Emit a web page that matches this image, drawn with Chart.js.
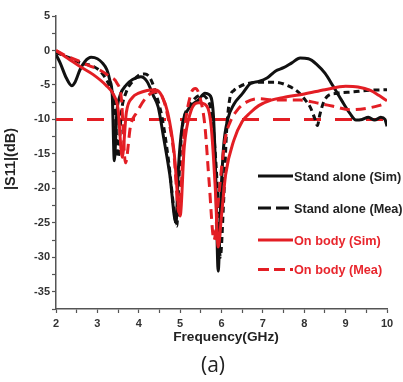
<!DOCTYPE html>
<html>
<head>
<meta charset="utf-8">
<script src="https://cdn.jsdelivr.net/npm/chart.js@4.4.1/dist/chart.umd.min.js"></script>
<style>
  html, body { margin: 0; padding: 0; background: #fff; }
  #wrap { width: 403px; height: 382px; }
</style>
</head>
<body>
<div id="wrap"><canvas id="s11Chart" width="403" height="382"></canvas></div>
<script>
// Values: [frequency GHz, |S11| dB]
const standAloneSim = [
    [2.0, -0.6], [2.1, -1.8], [2.25, -4.0], [2.38, -5.1], [2.46, -4.6], [2.58, -2.8],
    [2.7, -1.6], [2.85, -1.0], [3.0, -1.2], [3.12, -1.8], [3.23, -2.8], [3.3, -4.3],
    [3.36, -6.5], [3.41, -16.0], [3.47, -9.0], [3.55, -6.5], [3.7, -5.0], [3.85, -4.2],
    [4.05, -3.8], [4.2, -4.5], [4.35, -6.5], [4.47, -8.2], [4.6, -12.6], [4.75, -18.0],
    [4.9, -25.0], [4.96, -17.0], [5.05, -11.0], [5.2, -8.5], [5.44, -7.2], [5.6, -6.2],
    [5.7, -6.4], [5.8, -9.0], [5.86, -18.0], [5.92, -32.0], [5.98, -22.0], [6.05, -14.0],
    [6.15, -10.0], [6.3, -7.8], [6.5, -6.3], [6.7, -4.8], [6.9, -4.5], [7.1, -4.0],
    [7.3, -3.0], [7.5, -2.5], [7.7, -1.8], [7.9, -1.1], [8.1, -1.2], [8.3, -2.0],
    [8.5, -3.3], [8.7, -5.2], [8.9, -7.2], [9.1, -9.1], [9.25, -10.1], [9.4, -10.0],
    [9.55, -9.7], [9.7, -10.1], [9.85, -9.7], [9.95, -10.0], [10.0, -11.0]
];
const standAloneMea = [
    [2.0, -0.3], [2.3, -1.0], [2.6, -1.8], [2.9, -2.3], [3.1, -3.2], [3.3, -5.3],
    [3.42, -8.0], [3.5, -15.5], [3.58, -9.0], [3.7, -6.0], [3.85, -4.5], [4.0, -3.6],
    [4.15, -3.4], [4.3, -4.3], [4.45, -7.0], [4.56, -9.6], [4.72, -16.0], [4.85, -23.0],
    [4.92, -25.5], [4.97, -18.9], [5.03, -12.5], [5.1, -9.6], [5.2, -8.3], [5.35, -7.0],
    [5.5, -6.5], [5.65, -7.0], [5.78, -10.0], [5.9, -20.0], [5.97, -30.0], [6.05, -22.0],
    [6.12, -12.0], [6.2, -7.0], [6.3, -5.8], [6.45, -5.2], [6.7, -4.7], [7.0, -4.6],
    [7.3, -4.6], [7.6, -5.1], [7.85, -6.0], [8.0, -7.0], [8.15, -8.3], [8.25, -9.8],
    [8.32, -10.9], [8.37, -9.5], [8.45, -7.8], [8.55, -6.7], [8.8, -6.2], [9.2, -6.0],
    [9.5, -5.8], [10.0, -5.7]
];
const onBodySim = [
    [2.0, 0.0], [2.3, -1.2], [2.6, -2.4], [2.9, -3.5], [3.2, -5.0], [3.4, -6.5],
    [3.5, -8.5], [3.6, -15.5], [3.7, -9.0], [3.85, -6.8], [4.0, -6.2], [4.2, -5.8],
    [4.4, -5.7], [4.55, -6.5], [4.7, -9.0], [4.85, -14.5], [5.0, -24.0], [5.1, -14.0],
    [5.25, -9.0], [5.45, -7.6], [5.6, -7.8], [5.75, -11.0], [5.85, -20.0], [5.92, -28.5],
    [6.0, -24.0], [6.1, -18.0], [6.3, -13.0], [6.5, -10.3], [6.7, -9.0], [6.9, -8.0],
    [7.2, -7.2], [7.5, -6.8], [8.0, -6.3], [8.5, -5.7], [9.0, -5.2], [9.3, -5.3],
    [9.6, -5.8], [9.8, -6.5], [10.0, -7.3]
];
const onBodyMea = [
    [2.0, 0.0], [2.25, -0.8], [2.5, -1.4], [2.8, -2.2], [3.05, -2.8], [3.3, -3.8],
    [3.47, -4.7], [3.58, -7.0], [3.68, -16.3], [3.8, -11.0], [3.95, -9.0], [4.2, -6.7],
    [4.4, -6.0], [4.55, -6.5], [4.7, -9.5], [4.85, -15.0], [4.97, -23.5], [5.1, -12.0],
    [5.25, -6.5], [5.37, -5.5], [5.48, -6.8], [5.6, -11.0], [5.7, -19.0], [5.82, -27.5],
    [5.92, -22.0], [6.02, -16.0], [6.1, -12.5], [6.2, -10.5], [6.4, -8.5], [6.6, -7.5],
    [6.9, -7.0], [7.3, -7.2], [7.9, -7.2], [8.3, -7.6], [8.7, -8.1], [9.1, -8.6],
    [9.5, -8.4], [9.8, -8.0], [10.0, -7.6]
];
const refLine = [[2, -10], [10, -10]];

const legendLabels = ["Stand alone (Sim)", "Stand alone (Mea)", "On body (Sim)", "On body (Mea)"];

const BLACK = "#111111";
const RED = "#e31e24";

const toPoints = (arr) => arr.map(([x, y]) => ({ x: x, y: y }));

const curve = (label, data, color, dash, order) => ({
    label: label,
    data: toPoints(data),
    borderColor: color,
    borderWidth: 3,
    borderDash: dash,
    pointRadius: 0,
    fill: false,
    cubicInterpolationMode: "monotone",
    order: order,
});

// Legend, axis titles and "(a)" caption
const annotations = {
    id: "annotations",
    afterDraw(chart) {
        const ctx = chart.ctx;
        ctx.save();

        const rows = [
            { text: legendLabels[0], color: BLACK, dash: [], y: 176 },
            { text: legendLabels[1], color: BLACK, dash: [13, 5], y: 208 },
            { text: legendLabels[2], color: RED, dash: [], y: 240 },
            { text: legendLabels[3], color: RED, dash: [11, 5], y: 269.5 },
        ];
        rows.forEach((r) => {
            ctx.beginPath();
            ctx.setLineDash(r.dash);
            ctx.strokeStyle = r.color;
            ctx.lineWidth = 3;
            ctx.moveTo(258, r.y);
            ctx.lineTo(293, r.y);
            ctx.stroke();
            ctx.setLineDash([]);
            ctx.fillStyle = r.color === RED ? "#e8262d" : "#222";
            ctx.font = "bold 12.7px 'Liberation Sans', Arial, sans-serif";
            ctx.textAlign = "left";
            ctx.textBaseline = "middle";
            ctx.fillText(r.text, 294, r.y + 1);
        });

        ctx.fillStyle = "#222";
        ctx.font = "bold 13.7px 'Liberation Sans', Arial, sans-serif";
        ctx.textAlign = "center";
        ctx.textBaseline = "middle";
        ctx.fillText("Frequency(GHz)", 226, 337);

        ctx.font = "21px 'Open Sans', 'Liberation Sans', sans-serif";
        ctx.fillText("(a)", 213, 366);

        ctx.translate(11, 159);
        ctx.rotate(-Math.PI / 2);
        ctx.font = "bold 14.5px 'Liberation Sans', Arial, sans-serif";
        ctx.fillText("|S11|(dB)", 0, 0);
        ctx.restore();
    },
};

const tickFont = { family: "'Liberation Sans', Arial, sans-serif", size: 11, weight: "bold" };

new Chart(document.getElementById("s11Chart"), {
    type: "line",
    data: {
        datasets: [
            curve(legendLabels[0], standAloneSim, BLACK, [], 4),
            curve(legendLabels[1], standAloneMea, BLACK, [6, 4], 3),
            curve(legendLabels[2], onBodySim, RED, [], 2),
            curve(legendLabels[3], onBodyMea, RED, [10, 6], 1),
            {
                label: "-10 dB",
                data: toPoints(refLine),
                borderColor: RED,
                borderWidth: 3,
                borderDash: [17, 14],
                pointRadius: 0,
                order: 5,
            },
        ],
    },
    options: {
        responsive: false,
        animation: false,
        layout: { padding: { left: 0, right: 16, top: 16, bottom: 0 } },
        plugins: {
            legend: { display: false },
            tooltip: { enabled: false },
        },
        scales: {
            x: {
                type: "linear",
                min: 2,
                max: 10,
                afterFit: (scale) => { scale.height = 73; },
                ticks: {
                    stepSize: 0.5,
                    padding: 4,
                    color: "#333",
                    font: tickFont,
                    maxRotation: 0,
                    callback: (v) => (Number.isInteger(v) ? v : ""),
                },
                grid: {
                    drawOnChartArea: false,
                    tickLength: 4,
                    color: "#555",
                    tickWidth: 1.2,
                },
                border: { color: "#555", width: 1.5 },
            },
            y: {
                min: -37.5,
                max: 5,
                afterFit: (scale) => { scale.width = 56; },
                ticks: {
                    stepSize: 2.5,
                    padding: 2,
                    color: "#333",
                    font: tickFont,
                    callback: (v) => (v % 5 === 0 ? v : ""),
                },
                grid: {
                    drawOnChartArea: false,
                    tickLength: 4,
                    color: "#555",
                    tickWidth: 1.2,
                },
                border: { color: "#555", width: 1.5 },
            },
        },
    },
    plugins: [annotations],
});
</script>
</body>
</html>
